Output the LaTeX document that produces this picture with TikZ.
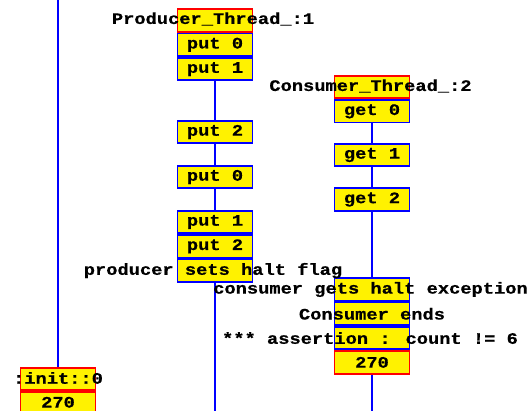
\documentclass[tikz,border=0pt]{standalone}
\usepackage{fontspec}
\usetikzlibrary{positioning,calc}
\newfontfamily\monob[FakeStretch=1.17,FakeBold=0.6]{Liberation Mono}
\begin{document}
\begin{tikzpicture}[x=1pt,y=-1pt,
  box/.style={draw=blue,fill=yellow,line width=1.8pt,minimum width=75pt,minimum height=22.5pt,inner sep=0pt,anchor=center},
  headbox/.style={box,draw=red},
  lbl/.style={font=\monob\fontsize{16}{16}\selectfont\bfseries,text=black,inner sep=0pt},
  life/.style={draw=blue,line width=2pt}]
\useasboundingbox (0,0) rectangle (529,411);
% anchors of lifelines
\coordinate (itop) at (58,0);
\coordinate (pbot) at (215,411);
\coordinate (cbot) at (372,411);
% init
\node[headbox] (ih) at (58,379) {};
\node[headbox,below=0pt of ih] (iv) {};
% producer
\node[headbox] (ph) at (215,20.5) {};
\node[box,below=0pt of ph] (p1) {};
\node[box,below=0pt of p1] (p2) {};
\node[box] (p3) at (215,132) {};
\node[box] (p4) at (215,177) {};
\node[box] (p5) at (215,222) {};
\node[box,below=0pt of p5] (p6) {};
\node[box,below=0pt of p6] (p7) {};
% consumer
\node[headbox] (ch) at (372,87) {};
\node[box,below=0pt of ch] (c1) {};
\node[box] (c2) at (372,155) {};
\node[box] (c3) at (372,199.5) {};
\node[box] (c4) at (372,289.5) {};
\node[box,below=0pt of c4] (c5) {};
\node[box,below=0pt of c5] (c6) {};
\node[headbox,below=0pt of c6] (c7) {};
% lifelines
\draw[life] (itop) -- (ih.north);
\draw[life] (p2.south) -- (p3.north);
\draw[life] (p3.south) -- (p4.north);
\draw[life] (p4.south) -- (p5.north);
\draw[life] (p7.south) -- (pbot);
\draw[life] (c1.south) -- (c2.north);
\draw[life] (c2.south) -- (c3.north);
\draw[life] (c3.south) -- (c4.north);
\draw[life] (c7.south) -- (cbot);
% labels
\node[lbl] (tih) at ($(ih.center)+(0,-1)$) {:init::0};
\node[lbl] (tiv) at ($(iv.center)+(0,-1)$) {270};
\node[lbl] (tph) at ($(ph.center)+(-2,-1.5)$) {Producer\_Thread\_:1};
\node[lbl] (tp1) at (p1.center) {put 0};
\node[lbl] (tp2) at (p2.center) {put 1};
\node[lbl] (tp3) at (p3.center) {put 2};
\node[lbl] (tp4) at (p4.center) {put 0};
\node[lbl] (tp5) at (p5.center) {put 1};
\node[lbl] (tp6) at (p6.center) {put 2};
\node[lbl] (tp7) at ($(p7.center)+(-2,0)$) {producer sets halt flag};
\node[lbl] (tch) at ($(ch.center)+(-1.5,-1)$) {Consumer\_Thread\_:2};
\node[lbl] (tc1) at (c1.center) {get 0};
\node[lbl] (tc2) at (c2.center) {get 1};
\node[lbl] (tc3) at (c3.center) {get 2};
\node[lbl] (tc4) at ($(c4.center)+(-1.5,0)$) {consumer gets halt exception};
\node[lbl] (tc5) at (c5.center) {Consumer ends};
\node[lbl] (tc6) at ($(c6.center)+(-2,0)$) {*** assertion : count != 6};
\node[lbl] (tc7) at (c7.center) {270};
\end{tikzpicture}
\end{document}
